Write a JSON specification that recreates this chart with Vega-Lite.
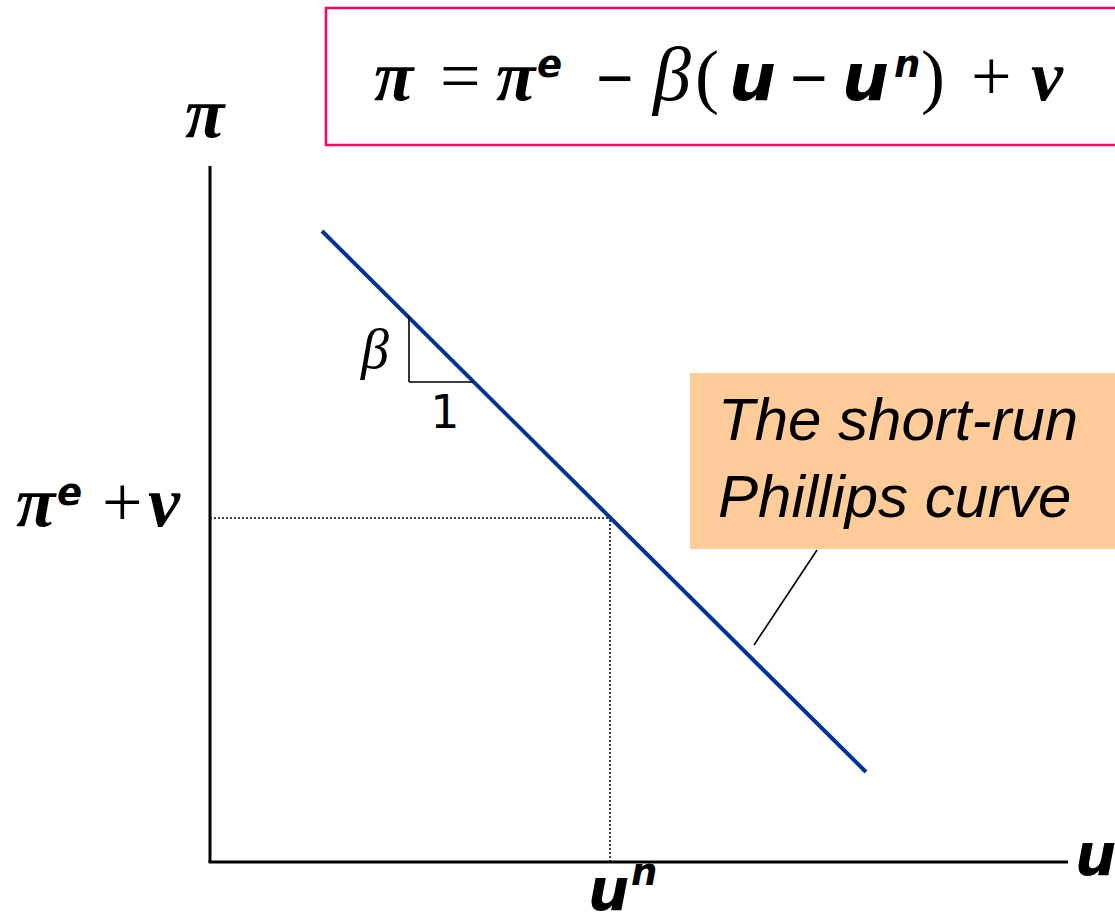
{
  "$schema": "https://vega.github.io/schema/vega-lite/v6.json",
  "width": 1115,
  "height": 917,
  "autosize": {"type": "none"},
  "padding": 0,
  "background": "white",
  "config": {"view": {"stroke": null}},
  "encoding": {
    "x": {"field": "x", "type": "quantitative", "scale": {"domain": [-210, 905], "nice": false, "zero": false}, "axis": null},
    "y": {"field": "y", "type": "quantitative", "scale": {"domain": [-55, 862], "nice": false, "zero": false}, "axis": null}
  },
  "layer": [
    {
      "data": {"values": [{"x": 116, "y": 717, "x2": 912, "y2": 854}]},
      "mark": {"type": "rect", "fill": "white", "stroke": "#FF0066", "strokeWidth": 2.5, "clip": true},
      "encoding": {"x2": {"field": "x2"}, "y2": {"field": "y2"}}
    },
    {
      "data": {"values": [{"x": 480, "y": 313, "x2": 905, "y2": 489}]},
      "mark": {"type": "rect", "fill": "#FFCC99"},
      "encoding": {"x2": {"field": "x2"}, "y2": {"field": "y2"}}
    },
    {
      "data": {"values": [{"x": 0, "y": 0, "x2": 0, "y2": 696}, {"x": -1.5, "y": 0, "x2": 858, "y2": 0}]},
      "mark": {"type": "rule", "color": "black", "strokeWidth": 3},
      "encoding": {"x2": {"field": "x2"}, "y2": {"field": "y2"}}
    },
    {
      "data": {"values": [{"x": 0, "y": 344, "x2": 400, "y2": 344}, {"x": 400, "y": 0, "x2": 400, "y2": 344}]},
      "mark": {"type": "rule", "color": "black", "strokeWidth": 1.5, "strokeDash": [2, 2]},
      "encoding": {"x2": {"field": "x2"}, "y2": {"field": "y2"}}
    },
    {
      "data": {"values": [{"x": 112, "y": 631, "x2": 656, "y2": 90}]},
      "mark": {"type": "rule", "color": "#003399", "strokeWidth": 4},
      "encoding": {"x2": {"field": "x2"}, "y2": {"field": "y2"}}
    },
    {
      "data": {"values": [{"x": 199, "y": 546, "x2": 199, "y2": 480}, {"x": 199, "y": 480, "x2": 263, "y2": 480}, {"x": 544, "y": 217, "x2": 607, "y2": 312}]},
      "mark": {"type": "rule", "color": "black", "strokeWidth": 1.6},
      "encoding": {"x2": {"field": "x2"}, "y2": {"field": "y2"}}
    },
    {
      "data": {"values": [{"x": 164, "y": 762, "t": "π"}, {"x": 286, "y": 762, "t": "π"}, {"x": -25, "y": 725, "t": "π"}, {"x": -194, "y": 336, "t": "π"}, {"x": -62, "y": 336, "t": "ν"}, {"x": 821, "y": 762, "t": "ν"}]},
      "mark": {"type": "text", "font": "Liberation Serif", "fontSize": 72, "fontStyle": "italic", "fontWeight": "bold", "align": "left", "baseline": "alphabetic", "color": "black"},
      "encoding": {"text": {"field": "t"}}
    },
    {
      "data": {"values": [{"x": 230, "y": 762, "t": "="}, {"x": 485, "y": 762, "t": "("}, {"x": 711, "y": 762, "t": ")"}, {"x": 761, "y": 762, "t": "+"}, {"x": -108, "y": 336, "t": "+"}]},
      "mark": {"type": "text", "font": "Liberation Serif", "fontSize": 72, "align": "left", "baseline": "alphabetic", "color": "black"},
      "encoding": {"text": {"field": "t"}}
    },
    {
      "data": {"values": [{"x": 405, "y": 780, "t": "−"}, {"x": 599, "y": 780, "t": "−"}]},
      "mark": {"type": "text", "font": "Noto Sans", "fontSize": 66, "align": "center", "baseline": "middle", "color": "black"},
      "encoding": {"text": {"field": "t"}}
    },
    {
      "data": {"values": [{"x": 443, "y": 762, "t": "β"}]},
      "mark": {"type": "text", "font": "Liberation Serif", "fontSize": 76, "fontStyle": "italic", "align": "left", "baseline": "alphabetic", "color": "black"},
      "encoding": {"text": {"field": "t"}}
    },
    {
      "data": {"values": [{"x": 151, "y": 494, "t": "β"}]},
      "mark": {"type": "text", "font": "Liberation Serif", "fontSize": 56, "fontStyle": "italic", "align": "left", "baseline": "alphabetic", "color": "black"},
      "encoding": {"text": {"field": "t"}}
    },
    {
      "data": {"values": [{"x": 235, "y": 434, "t": "1"}]},
      "mark": {"type": "text", "font": "DejaVu Sans", "fontSize": 46, "align": "center", "baseline": "alphabetic", "color": "black"},
      "encoding": {"text": {"field": "t"}}
    },
    {
      "data": {"values": [{"x": 519, "y": 762, "t": "u"}, {"x": 632, "y": 762, "t": "u"}]},
      "mark": {"type": "text", "font": "DejaVu Sans", "fontSize": 66, "fontStyle": "italic", "fontWeight": "bold", "align": "left", "baseline": "alphabetic", "color": "black"},
      "encoding": {"text": {"field": "t"}}
    },
    {
      "data": {"values": [{"x": 865, "y": -13, "t": "u"}, {"x": 378, "y": -48, "t": "u"}]},
      "mark": {"type": "text", "font": "DejaVu Sans", "fontSize": 58, "fontStyle": "italic", "fontWeight": "bold", "align": "left", "baseline": "alphabetic", "color": "black"},
      "encoding": {"text": {"field": "t"}}
    },
    {
      "data": {"values": [{"x": 327, "y": 785, "t": "e"}, {"x": 684, "y": 785, "t": "n"}, {"x": -153, "y": 357, "t": "e"}, {"x": 421, "y": -23, "t": "n"}]},
      "mark": {"type": "text", "font": "DejaVu Sans", "fontSize": 37, "fontStyle": "italic", "fontWeight": "bold", "align": "left", "baseline": "alphabetic", "color": "black"},
      "encoding": {"text": {"field": "t"}}
    },
    {
      "data": {"values": [{"x": 508, "y": 422, "t": "The short-run"}, {"x": 508, "y": 345, "t": "Phillips curve"}]},
      "mark": {"type": "text", "font": "Liberation Sans", "fontSize": 60, "fontStyle": "italic", "align": "left", "baseline": "alphabetic", "color": "black"},
      "encoding": {"text": {"field": "t"}}
    }
  ]
}
